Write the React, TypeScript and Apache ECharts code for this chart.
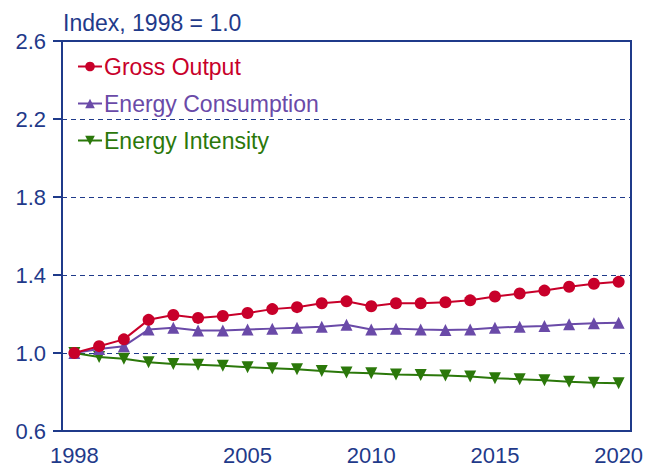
import React, { useEffect, useRef } from "react";
import * as echarts from "echarts";

const years = ["1998","1999","2000","2001","2002","2003","2004","2005","2006","2007","2008","2009","2010","2011","2012","2013","2014","2015","2016","2017","2018","2019","2020"];
const shownYears = ["1998", "2005", "2010", "2015", "2020"];
const grossOutput = [1.0, 1.035, 1.07, 1.17, 1.195, 1.18, 1.19, 1.205, 1.225, 1.235, 1.255, 1.265, 1.24, 1.255, 1.255, 1.26, 1.27, 1.29, 1.305, 1.32, 1.34, 1.355, 1.365];
const energyConsumption = [1.0, 1.02, 1.035, 1.12, 1.13, 1.115, 1.115, 1.12, 1.125, 1.13, 1.135, 1.145, 1.12, 1.125, 1.12, 1.118, 1.12, 1.13, 1.135, 1.138, 1.148, 1.153, 1.155];
const energyIntensity = [1.0, 0.98, 0.97, 0.952, 0.944, 0.94, 0.934, 0.927, 0.922, 0.917, 0.908, 0.9, 0.896, 0.89, 0.887, 0.884, 0.879, 0.871, 0.865, 0.86, 0.853, 0.848, 0.845];

const NAVY = "#1f3a8a";
const RED = "#c8002a";
const PURPLE = "#6a4aa8";
const GREEN = "#2b780a";
const FONT = "Liberation Sans, Arial, sans-serif";
const AXIS_FS = 22;
const TEXT_FS = 23;

export default function App() {
  const ref = useRef<HTMLDivElement>(null);
  useEffect(() => {
    const chart = echarts.init(ref.current!, null, { renderer: "svg" });
    const mk = (name: string, data: number[], color: string, symbol: string, rotate: number, z: number) => ({
      name,
      type: "line",
      data,
      symbol,
      symbolRotate: rotate,
      symbolSize: 12,
      lineStyle: { color, width: 2 },
      itemStyle: { color },
      z,
    });
    chart.setOption({
      animation: false,
      title: {
        text: "Index, 1998 = 1.0",
        left: 58,
        top: 6,
        textStyle: { color: NAVY, fontSize: TEXT_FS, fontWeight: "normal", fontFamily: FONT },
      },
      legend: {
        orient: "vertical",
        left: 72,
        top: 50,
        itemGap: 14,
        itemWidth: 24,
        itemHeight: 12,
        textStyle: { fontSize: TEXT_FS, fontFamily: FONT, padding: [0, 0, 0, -3] },
        data: [
          { name: "Gross Output", textStyle: { color: RED } },
          { name: "Energy Consumption", textStyle: { color: PURPLE } },
          { name: "Energy Intensity", textStyle: { color: GREEN } },
        ],
      },
      grid: {
        left: 62,
        right: 26,
        top: 41,
        bottom: 34,
        show: true,
        borderColor: NAVY,
        borderWidth: 2,
        backgroundColor: "transparent",
      },
      xAxis: {
        type: "category",
        data: years,
        boundaryGap: true,
        axisLine: { show: true, lineStyle: { color: NAVY, width: 2 } },
        axisTick: { show: false },
        axisLabel: {
          interval: (i: number, v: string) => shownYears.includes(v),
          color: NAVY,
          fontSize: AXIS_FS,
          fontFamily: FONT,
          margin: 13,
        },
        splitLine: { show: false },
      },
      yAxis: {
        type: "value",
        min: 0.6,
        max: 2.6,
        interval: 0.4,
        axisLine: { show: true, lineStyle: { color: NAVY, width: 2 } },
        axisTick: { show: true, length: 9, lineStyle: { color: NAVY, width: 2 } },
        axisLabel: {
          color: NAVY,
          fontSize: AXIS_FS,
          fontFamily: FONT,
          margin: 16,
          formatter: (v: number) => v.toFixed(1),
        },
        splitLine: { show: true, lineStyle: { color: NAVY, width: 1, type: [5, 4] } },
      },
      series: [
        mk("Gross Output", grossOutput, RED, "circle", 0, 5),
        mk("Energy Consumption", energyConsumption, PURPLE, "triangle", 0, 4),
        mk("Energy Intensity", energyIntensity, GREEN, "triangle", 180, 3),
      ],
    });
    return () => chart.dispose();
  }, []);
  return <div ref={ref} style={{ position: "absolute", left: 0, top: 0, width: 657, height: 466 }} />;
}
